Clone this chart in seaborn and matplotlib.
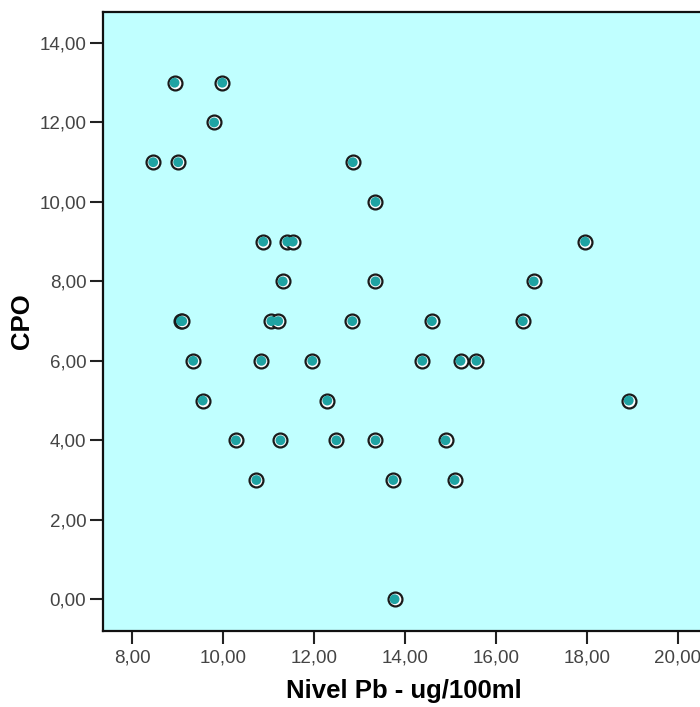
import matplotlib
matplotlib.use('Agg')
import matplotlib.pyplot as plt
import seaborn as sns
import pandas as pd
from matplotlib.ticker import FuncFormatter, MultipleLocator

# valores
nivel_pb = [8.46, 8.93, 9.01, 9.98, 9.80, 9.07, 9.10, 9.34, 9.55, 10.28,
            10.73, 10.88, 10.84, 11.06, 11.21, 11.31, 11.26, 11.41, 11.53, 11.96,
            12.29, 12.49, 12.85, 12.84, 13.35, 13.35, 13.35, 13.74, 13.77, 14.38,
            14.59, 14.89, 15.09, 15.22, 15.57, 16.59, 16.83, 17.96, 18.92]
cpo = [11, 13, 11, 13, 12, 7, 7, 6, 5, 4,
       3, 9, 6, 7, 7, 8, 4, 9, 9, 6,
       5, 4, 11, 7, 10, 8, 4, 3, 0, 6,
       7, 4, 3, 6, 6, 7, 8, 9, 5]

x_label = 'Nivel Pb - ug/100ml'
y_label = 'CPO'

df = pd.DataFrame({x_label: nivel_pb, y_label: cpo})

sns.set_style('white')
plt.rcParams['font.family'] = ['Liberation Sans', 'DejaVu Sans']

fig = plt.figure(figsize=(7.0, 7.07), dpi=100)
ax = fig.add_axes([0.1471, 0.1075, 0.881, 0.8755])
ax.set_facecolor('#C0FFFF')

# circulo exterior negro con anillo blanco, relleno turquesa
sns.scatterplot(data=df, x=x_label, y=y_label, ax=ax, s=100, color='white',
                edgecolor='#1a1a1a', linewidth=1.6, zorder=3)
sns.scatterplot(data=df, x=x_label, y=y_label, ax=ax, s=50, color='#1FA3A3',
                edgecolor='none', linewidth=0, zorder=4)

ax.set_xlim(7.356, 20.92)
ax.set_ylim(-0.80, 14.78)
ax.xaxis.set_major_locator(MultipleLocator(2))
ax.yaxis.set_major_locator(MultipleLocator(2))
fmt = FuncFormatter(lambda v, p: ('%.2f' % v).replace('.', ','))
ax.xaxis.set_major_formatter(fmt)
ax.yaxis.set_major_formatter(fmt)

ax.tick_params(axis='both', direction='out', length=9.5, width=1.5, color='#222222',
               labelsize=13.5, labelcolor='#444444', left=True, bottom=True)
ax.tick_params(axis='x', pad=3.5)
ax.tick_params(axis='y', pad=2.5)

for side in ['left', 'bottom', 'top', 'right']:
    ax.spines[side].set_color('#111111')
    ax.spines[side].set_linewidth(1.6)

ax.set_xlabel(x_label, fontsize=18.5, fontweight='bold', color='black')
ax.set_ylabel(y_label, fontsize=18.5, fontweight='bold', color='black')
ax.xaxis.set_label_coords((404 - 103) / 617, -(679 - 631) / 619)
ax.yaxis.set_label_coords(-(103 - 34) / 617, 0.5)

fig.savefig('out.png', dpi=100)
